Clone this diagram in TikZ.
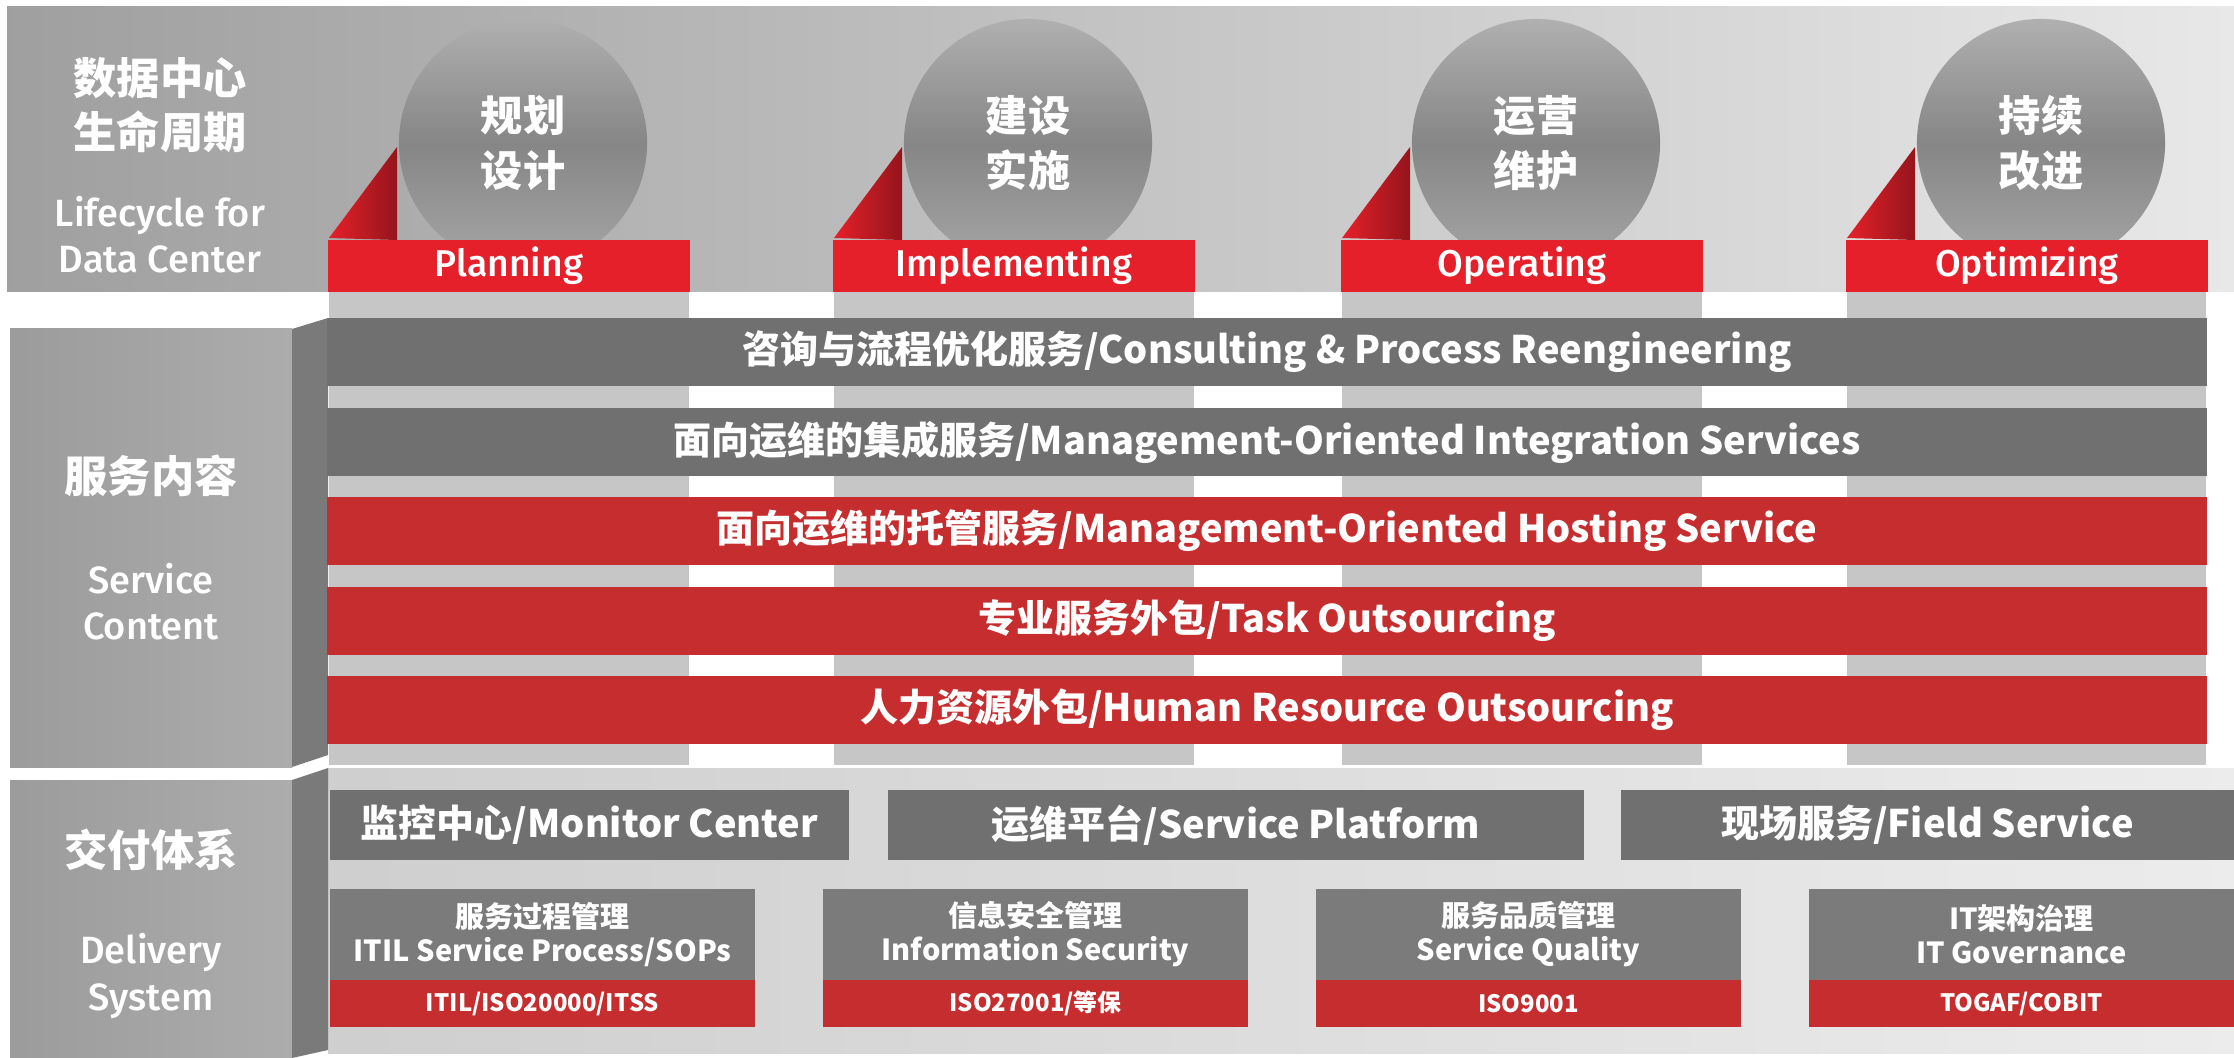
\documentclass[tikz,border=0pt]{standalone}
\usepackage{fontspec}
\newfontfamily\cjk{Noto Sans CJK SC}
\newfontfamily\sq{Fira Sans Medium}
\definecolor{ribred}{HTML}{E5202A}
\definecolor{barred}{HTML}{C62D2F}
\definecolor{bargray}{HTML}{707070}
\definecolor{boxgray}{HTML}{7B7B7B}
\definecolor{colgray}{HTML}{C6C6C6}
\definecolor{sidegray}{HTML}{7A7A7A}

\begin{document}
\begin{tikzpicture}[x=0.01cm, y=-0.01cm,
	stage/.style={circle, minimum size=2.48cm, inner sep=0pt, top color=gray!62, bottom color=gray!70, middle color=gray!95, text=white, align=center, font=\cjk\bfseries\fontsize{12pt}{15.4pt}\selectfont},
	ribbon/.style={rectangle, fill=ribred, minimum width=3.61cm, minimum height=0.52cm, inner sep=0pt, text=white, font=\sq\fontsize{10.6pt}{12pt}\selectfont},
	graybar/.style={rectangle, fill=bargray, minimum width=18.78cm, minimum height=0.68cm, inner sep=0pt, text=white, font=\cjk\bfseries\fontsize{10.8pt}{13pt}\selectfont},
	redbar/.style={graybar, fill=barred},
	delivbar/.style={graybar, minimum height=0.70cm},
	stdbox/.style={rectangle, fill=boxgray, minimum width=4.25cm, minimum height=0.91cm, inner sep=0pt, text=white, align=center, font=\cjk\bfseries\fontsize{8.25pt}{9.7pt}\selectfont},
	stdtag/.style={rectangle, fill=barred, minimum width=4.25cm, minimum height=0.47cm, inner sep=0pt, text=white, font=\cjk\bfseries\fontsize{6.8pt}{8pt}\selectfont},
	paneltitle/.style={text=white, align=center, font=\cjk\bfseries\fontsize{12.3pt}{15.2pt}\selectfont},
	panelsub/.style={text=white, align=center, font=\sq\fontsize{10.8pt}{13.1pt}\selectfont}]
	\useasboundingbox (0,0) rectangle (2234,1058);
	\fill[white] (0,0) rectangle (2234,1058);

	\shade[left color=gray!75, right color=gray!18] (7,7) rectangle (2234,292);
	\fill[colgray] (329,292) rectangle (689,765);
	\fill[colgray] (834,292) rectangle (1194,765);
	\fill[colgray] (1342,292) rectangle (1702,765);
	\fill[colgray] (1847,292) rectangle (2206,765);

	\node[stage] (plan) at (523,143) {规划\\设计};
	\node[stage] (impl) at (1028,143) {建设\\实施};
	\node[stage] (oper) at (1536,143) {运营\\维护};
	\node[stage] (optim) at (2041,143) {持续\\改进};
	\shade[left color=ribred, right color=ribred!65!black] (329,238) -- (397,147) -- (397,240) -- cycle;
	\shade[left color=ribred, right color=ribred!65!black] (834,238) -- (902,147) -- (902,240) -- cycle;
	\shade[left color=ribred, right color=ribred!65!black] (1342,238) -- (1410,147) -- (1410,240) -- cycle;
	\shade[left color=ribred, right color=ribred!65!black] (1847,238) -- (1915,147) -- (1915,240) -- cycle;
	\node[ribbon] (planrib) at (509,266) {Planning};
	\node[ribbon] (implrib) at (1014,266) {Implementing};
	\node[ribbon] (operrib) at (1522,266) {Operating};
	\node[ribbon] (optimrib) at (2027,266) {Optimizing};

	\node[paneltitle] (lifecn) at (160,105) {数据中心\\生命周期};
	\node[panelsub] (lifeen) at (160,235) {Lifecycle for\\Data Center};

	\shade[left color=gray!78, right color=gray!65] (10,329) rectangle (292,767);
	\fill[sidegray] (292,329) -- (328,318) -- (328,755) -- (292,767) -- cycle;
	\node[paneltitle] (servcn) at (151,476) {服务内容};
	\node[panelsub] (serven) at (151,602) {Service\\Content};

	\node[graybar] (consult) at (1267,352) {咨询与流程优化服务/Consulting \& Process Reengineering};
	\node[graybar] (integ) at (1267,442) {面向运维的集成服务/Management-Oriented Integration Services};
	\node[redbar] (hosting) at (1267,531) {面向运维的托管服务/Management-Oriented Hosting Service};
	\node[redbar] (task) at (1267,621) {专业服务外包/Task Outsourcing};
	\node[redbar] (human) at (1267,710) {人力资源外包/Human Resource Outsourcing};

	\shade[left color=gray!38, right color=gray!15] (328,768) rectangle (2234,1053);
	\shade[left color=gray!78, right color=gray!65] (10,780) rectangle (292,1058);
	\fill[sidegray] (292,780) -- (328,768) -- (328,1050) -- (292,1058) -- cycle;
	\node[paneltitle] (delivcn) at (151,850) {交付体系};
	\node[panelsub] (deliven) at (151,976) {Delivery\\System};

	\node[delivbar, minimum width=5.19cm] (monitor) at (589.5,825) {监控中心/Monitor Center};
	\node[delivbar, minimum width=6.96cm] (platform) at (1236,825) {运维平台/Service Platform};
	\node[delivbar, minimum width=6.13cm] (field) at (1927.5,825) {现场服务/Field Service};

	\node[stdbox] (itil) at (542.5,934.5) {服务过程管理\\ITIL Service Process/SOPs};
	\node[stdbox] (infosec) at (1035.5,934.5) {信息安全管理\\Information Security};
	\node[stdbox] (quality) at (1528.5,934.5) {服务品质管理\\Service Quality};
	\node[stdbox] (govern) at (2021.5,934.5) {IT架构治理\\IT Governance};
	\node[stdtag] (itiltag) at (542.5,1003.5) {ITIL/ISO20000/ITSS};
	\node[stdtag] (infosectag) at (1035.5,1003.5) {ISO27001/等保};
	\node[stdtag] (qualitytag) at (1528.5,1003.5) {ISO9001};
	\node[stdtag] (governtag) at (2021.5,1003.5) {TOGAF/COBIT};
\end{tikzpicture}
\end{document}
